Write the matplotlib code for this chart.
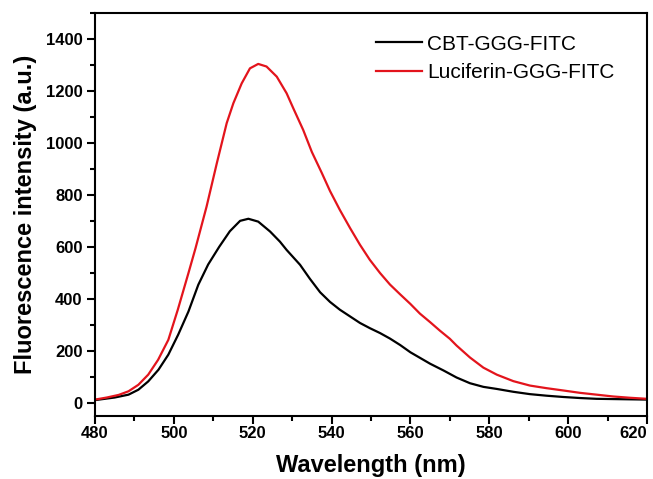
import matplotlib
matplotlib.use("Agg")
import matplotlib.pyplot as plt
from matplotlib.ticker import MultipleLocator

plt.rcParams['font.family'] = ['Liberation Sans', 'DejaVu Sans']

# CBT-GGG-FITC (black)
wl_cbt = [480, 485, 488.5, 491, 493.5, 496.1, 498.6, 501.1, 503.7, 506.2, 508.7,
          511.5, 514.2, 516.8, 518.9, 521.4, 524.4, 526.9, 528.6, 532, 534.5,
          537.1, 539.6, 542.1, 544.7, 547.2, 549.7, 552.3, 554.8, 557.4, 560,
          565, 568.4, 571.7, 575.1, 578.5, 581.9, 586.1, 590.3, 594.5, 598.8,
          603, 607.2, 611.4, 615.7, 620]
int_cbt = [10, 20, 31, 50, 82, 127, 185, 262, 351, 454, 532,
           600, 660, 700, 708, 697, 659, 620, 588, 531, 477,
           425, 388, 358, 332, 307, 287, 268, 247, 222, 194,
           150, 124, 97, 75, 61, 53, 42, 33, 27, 22,
           18, 15, 14, 13, 12]

# Luciferin-GGG-FITC (red)
wl_luc = [480, 483, 486, 488.5, 491, 493.5, 496, 498.6, 501, 503.7, 505.5,
          508.3, 510.9, 513.4, 515.1, 517.2, 519.3, 521.4, 523.5, 526.1, 528.6,
          530.3, 532.8, 535, 537.5, 539.6, 542.1, 544.7, 547.2, 549.7, 552.3,
          554.8, 557.4, 560, 562.4, 565, 567.5, 570, 571.7, 575.1, 578.5,
          581.9, 586.1, 590.3, 594.5, 598.8, 603, 607.2, 611.4, 615.7, 620]
int_luc = [12, 20, 30, 44, 69, 108, 165, 242, 358, 499, 595,
           755, 922, 1076, 1153, 1229, 1287, 1304, 1294, 1255, 1191,
           1133, 1050, 965, 885, 815, 742, 672, 608, 550, 499,
           455, 417, 380, 343, 310, 277, 246, 220, 174, 135,
           108, 83, 66, 56, 47, 38, 31, 24, 19, 15]

labels = ["CBT-GGG-FITC", "Luciferin-GGG-FITC"]
colors = ["black", "#e3141c"]
xticks = [480, 500, 520, 540, 560, 580, 600, 620]
yticks = [0, 200, 400, 600, 800, 1000, 1200, 1400]

fig = plt.figure(figsize=(6.53, 4.79), dpi=100)
ax = fig.add_axes([95/653, 1-415.7/479, (647-95)/653, (415.7-13)/479])

ax.plot(wl_cbt, int_cbt, color=colors[0], lw=1.6, label=labels[0])
ax.plot(wl_luc, int_luc, color=colors[1], lw=1.6, label=labels[1])

ax.set_xlim(480, 620)
ax.set_ylim(-50, 1500)
ax.set_xticks(xticks, [str(t) for t in xticks])
ax.set_yticks(yticks, [str(t) for t in yticks])
ax.xaxis.set_minor_locator(MultipleLocator(10))
ax.yaxis.set_minor_locator(MultipleLocator(100))

for s in ax.spines.values():
    s.set_linewidth(1.5)
ax.tick_params(which='major', direction='out', length=5.5, width=1.5,
               labelsize=12, pad=2, top=False, right=False)
ax.tick_params(axis='y', which='major', length=6, pad=3)
ax.tick_params(which='minor', direction='out', length=3.5, width=1.5,
               top=False, right=False)
for lab in ax.get_xticklabels() + ax.get_yticklabels():
    lab.set_fontweight('bold')
ax.xaxis.get_major_ticks()[-1].label1.set_horizontalalignment('right')

ax.set_xlabel("Wavelength (nm)", fontsize=17, fontweight='bold', labelpad=9)
ax.set_ylabel("Fluorescence intensity (a.u.)", fontsize=17, fontweight='bold', labelpad=6)

ax.legend(loc='upper left', bbox_to_anchor=(376/653, 1-34.5/479),
          bbox_transform=fig.transFigure, frameon=False, fontsize=15,
          handlelength=2.2, handletextpad=0.25, labelspacing=0.45,
          borderpad=0, borderaxespad=0)

fig.savefig("out.png", dpi=100)
